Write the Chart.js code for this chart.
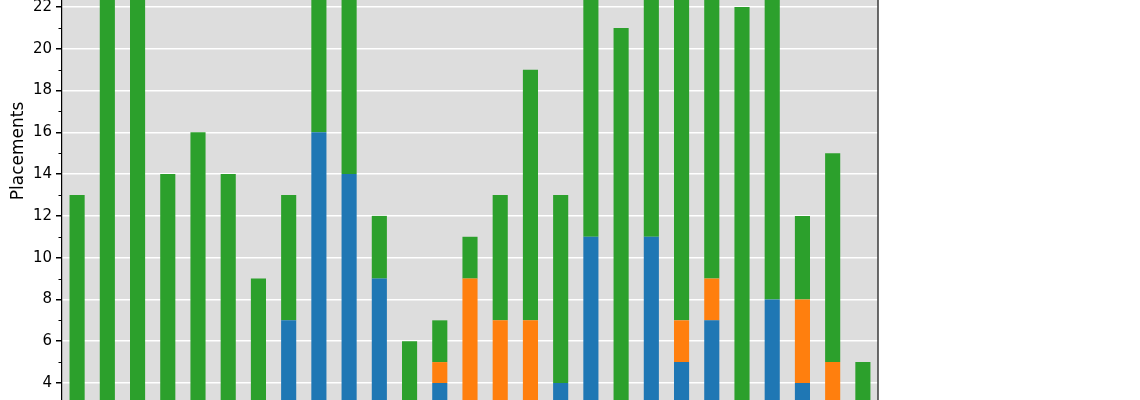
<!DOCTYPE html>
<html>
<head>
<meta charset="utf-8">
<script src="https://cdn.jsdelivr.net/npm/chart.js@4/dist/chart.umd.min.js"></script>
<style>
  html, body { margin: 0; padding: 0; background: #fff; }
  #wrap { width: 1140px; height: 400px; position: relative; }
</style>
</head>
<body>
<div id="wrap"><canvas id="placements"></canvas></div>
<script>
// categories (x labels are below the visible crop)
const groups = ['G1','G2','G3','G4','G5','G6','G7','G8','G9','G10','G11','G12','G13','G14',
  'G15','G16','G17','G18','G19','G20','G21','G22','G23','G24','G25','G26','G27'];

// stacked segments, bottom to top
const blueVals   = [0,0,0,0,0,0,0,7,16,14,9,0,4,0,0,0,4,11,0,11,5,7,0,8,4,0,0];
const orangeVals = [0,0,0,0,0,0,0,0,0,0,0,0,1,9,7,7,0,0,0,0,2,2,0,0,4,5,0];
const greenVals  = [13,25,24,14,16,14,9,6,8,9,3,6,2,2,6,12,9,14,21,15,17,15,22,19,4,10,5];

const yTicks = [4,6,8,10,12,14,16,18,20,22];
const yMinorTicks = [3,5,7,9,11,13,15,17,19,21,23];

const ctx = document.getElementById('placements');

// grey plot background + right spine + minor ticks + axis title
const decor = {
  id: 'decor',
  beforeDraw(chart) {
    const a = chart.chartArea;
    const c = chart.ctx;
    c.save();
    c.fillStyle = '#dddddd';
    c.fillRect(a.left, a.top, a.right - a.left, a.bottom - a.top);
    c.restore();
  },
  afterDraw(chart) {
    const a = chart.chartArea;
    const c = chart.ctx;
    const y = chart.scales.y;
    c.save();
    c.strokeStyle = '#000';
    c.lineWidth = 1;
    yMinorTicks.forEach(v => {
      const py = Math.round(y.getPixelForValue(v)) + 0.5;
      if (py < a.top || py > a.bottom) return;
      c.beginPath();
      c.moveTo(a.left - 3.5, py);
      c.lineTo(a.left, py);
      c.stroke();
    });
    c.strokeStyle = '#3a3a3a';
    c.lineWidth = 1.5;
    c.beginPath();
    c.moveTo(a.right, a.top);
    c.lineTo(a.right, a.bottom);
    c.stroke();
    c.fillStyle = '#000';
    c.font = '17px "DejaVu Sans"';
    c.textAlign = 'center';
    c.textBaseline = 'middle';
    c.translate(19, 151);
    c.rotate(-Math.PI / 2);
    c.fillText('Placements', 0, 0);
    c.restore();
  }
};

new Chart(ctx, {
  type: 'bar',
  data: {
    labels: groups,
    datasets: [
      { label: 'Series A', data: blueVals, backgroundColor: '#1f77b4' },
      { label: 'Series B', data: orangeVals, backgroundColor: '#ff7f0e' },
      { label: 'Series C', data: greenVals, backgroundColor: '#2ca02c' }
    ]
  },
  options: {
    responsive: true,
    maintainAspectRatio: false,
    animation: false,
    layout: { padding: { left: 0, right: 262, top: 0, bottom: 0 } },
    datasets: { bar: { barPercentage: 0.5, categoryPercentage: 1.0 } },
    plugins: { legend: { display: false }, tooltip: { enabled: false } },
    scales: {
      x: { stacked: true, display: false, offset: true },
      y: {
        stacked: true,
        min: 3.186,
        max: 22.335,
        afterBuildTicks(scale) { scale.ticks = yTicks.map(v => ({ value: v })); },
        afterFit(scale) {
          scale.width = 62;
          scale.paddingTop = 0;
          scale.paddingBottom = 0;
        },
        ticks: { color: '#000', padding: 4, font: { family: 'DejaVu Sans', size: 15 } },
        grid: { color: '#ffffff', lineWidth: 1.5, tickColor: '#000', tickLength: 6 },
        border: { color: '#000', width: 1.2 }
      }
    }
  },
  plugins: [decor]
});
</script>
</body>
</html>
